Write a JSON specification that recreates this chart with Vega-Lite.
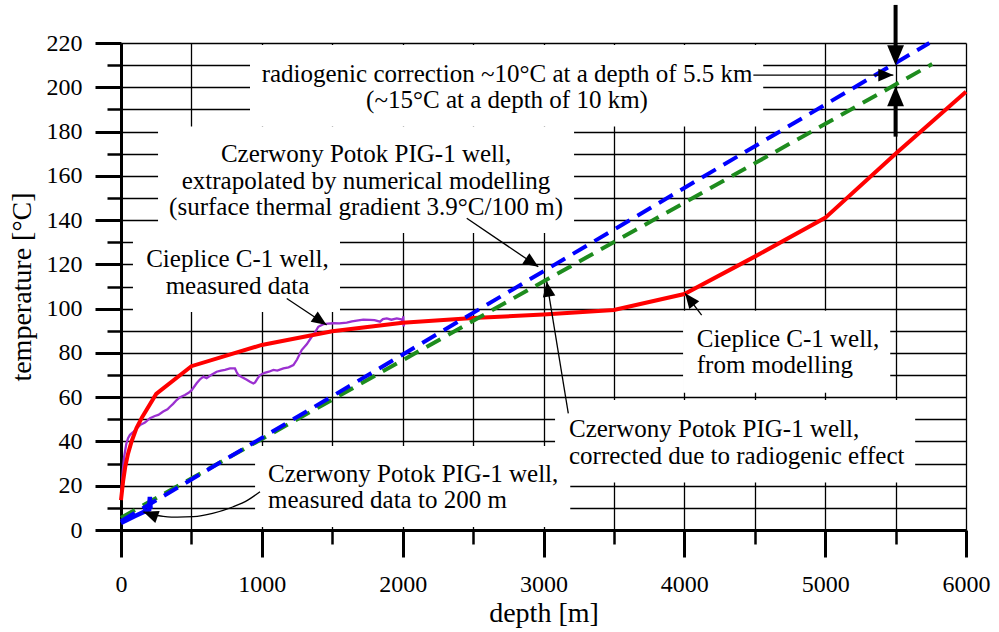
{
  "$schema": "https://vega.github.io/schema/vega-lite/v6.json",
  "width": 845,
  "height": 487,
  "autosize": {"type": "none"},
  "padding": {"left": 121, "top": 43, "right": 33, "bottom": 102},
  "background": "white",
  "config": {"view": {"stroke": null}, "font": "Liberation Serif"},
  "datasets": {
    "boxes": [
      {"x": 916, "x2": 4560, "y": 182.3, "y2": 219.1},
      {"x": 263, "x2": 3217, "y": 134.2, "y2": 182.3},
      {"x": 85, "x2": 1555, "y": 98.5, "y2": 134.2},
      {"x": 952, "x2": 3190, "y": 1.4, "y2": 38},
      {"x": 3082, "x2": 5639, "y": 21.5, "y2": 58.7},
      {"x": 3991, "x2": 5462, "y": 62, "y2": 99}
    ],
    "red": [
      {"x": 0, "y": 13.5}, {"x": 15, "y": 22}, {"x": 30, "y": 28.5}, {"x": 50, "y": 34.5},
      {"x": 75, "y": 40}, {"x": 110, "y": 46}, {"x": 150, "y": 51}, {"x": 250, "y": 61.5},
      {"x": 500, "y": 74}, {"x": 1000, "y": 83.6}, {"x": 1500, "y": 89.8}, {"x": 2000, "y": 93.6},
      {"x": 2500, "y": 95.8}, {"x": 3000, "y": 97.3}, {"x": 3500, "y": 99.4}, {"x": 4000, "y": 106.6},
      {"x": 4500, "y": 123.5}, {"x": 5000, "y": 141}, {"x": 5500, "y": 170}, {"x": 6000, "y": 198}
    ],
    "purple": [
      {"x": 3, "y": 17}, {"x": 12, "y": 26}, {"x": 22, "y": 33}, {"x": 38, "y": 39}, {"x": 50, "y": 41.5},
      {"x": 64, "y": 43}, {"x": 90, "y": 44.5}, {"x": 135, "y": 47.4}, {"x": 170, "y": 48.5},
      {"x": 206, "y": 50.5}, {"x": 240, "y": 51.5}, {"x": 265, "y": 52}, {"x": 300, "y": 53.5},
      {"x": 330, "y": 54.5}, {"x": 348, "y": 55.7}, {"x": 370, "y": 57}, {"x": 395, "y": 58.7},
      {"x": 420, "y": 60}, {"x": 454, "y": 61}, {"x": 480, "y": 62}, {"x": 502, "y": 63.2},
      {"x": 537, "y": 66.3}, {"x": 560, "y": 68}, {"x": 585, "y": 69.3}, {"x": 608, "y": 68.6},
      {"x": 640, "y": 70}, {"x": 679, "y": 71.5}, {"x": 710, "y": 72}, {"x": 738, "y": 72.3},
      {"x": 774, "y": 73}, {"x": 809, "y": 73}, {"x": 820, "y": 71.5}, {"x": 833, "y": 70},
      {"x": 860, "y": 69}, {"x": 890, "y": 68}, {"x": 916, "y": 67}, {"x": 940, "y": 66.2},
      {"x": 952, "y": 66.7}, {"x": 970, "y": 68.5}, {"x": 987, "y": 70}, {"x": 1020, "y": 71},
      {"x": 1050, "y": 71.5}, {"x": 1082, "y": 72.3}, {"x": 1110, "y": 72}, {"x": 1153, "y": 73},
      {"x": 1190, "y": 73.5}, {"x": 1224, "y": 74.5}, {"x": 1250, "y": 77}, {"x": 1283, "y": 81.3},
      {"x": 1320, "y": 84}, {"x": 1354, "y": 87.3}, {"x": 1380, "y": 89.5}, {"x": 1401, "y": 91.8},
      {"x": 1437, "y": 93}, {"x": 1470, "y": 93.2}, {"x": 1508, "y": 93.4}, {"x": 1550, "y": 93.3},
      {"x": 1603, "y": 93.7}, {"x": 1640, "y": 94.2}, {"x": 1674, "y": 94.6}, {"x": 1720, "y": 95},
      {"x": 1768, "y": 94.9}, {"x": 1800, "y": 94.8}, {"x": 1839, "y": 94.1}, {"x": 1860, "y": 95.3},
      {"x": 1887, "y": 95.6}, {"x": 1920, "y": 95}, {"x": 1958, "y": 95.6}, {"x": 1990, "y": 95.2},
      {"x": 2000, "y": 94.5}, {"x": 2004, "y": 96.5}, {"x": 2007, "y": 92}, {"x": 2010, "y": 93.5}
    ],
    "blueDash": [{"x": 0, "y": 4}, {"x": 5740, "y": 220}],
    "greenDash": [{"x": 0, "y": 5.5}, {"x": 5760, "y": 210.5}],
    "blueMeasured": [
      {"x": 0, "y": 3.2}, {"x": 100, "y": 6.3}, {"x": 200, "y": 9.3}, {"x": 205, "y": 15}, {"x": 210, "y": 9.5}
    ],
    "curve": [
      {"x": 200, "y": 7}, {"x": 300, "y": 6.2}, {"x": 400, "y": 5.8}, {"x": 514, "y": 6},
      {"x": 650, "y": 7.5}, {"x": 797, "y": 10.5}, {"x": 900, "y": 13.5}, {"x": 987, "y": 17.3}
    ],
    "arrows": [
      {"x": 1460, "y": 92.6, "x2": 1177, "y2": 104.6, "angle": 124},
      {"x": 2963, "y": 118.9, "x2": 2455, "y2": 140.8, "angle": 124},
      {"x": 3023, "y": 112.2, "x2": 3176, "y2": 52.7, "angle": 351},
      {"x": 4005, "y": 106.9, "x2": 4123, "y2": 97.1, "angle": 322},
      {"x": 159, "y": 8.2, "x2": 200, "y2": 7, "angle": 290},
      {"x": 5484, "y": 205.5, "x2": 4490, "y2": 205.5, "angle": 90}
    ],
    "thick": [
      {"x": 5500, "y": 210, "yb": 218, "y2": 237.2, "angle": 180},
      {"x": 5500, "y": 200.5, "yb": 192.5, "y2": 177.7, "angle": 0}
    ],
    "textCenter": [
      {"x": 2741, "y": 202.5, "text": "radiogenic correction ~10°C at a depth of 5.5 km\n(~15°C at a depth of 10 km)"},
      {"x": 1740, "y": 166.2, "text": "Czerwony Potok PIG-1 well,\nextrapolated by numerical modelling\n(surface thermal gradient 3.9°C/100 m)"},
      {"x": 827, "y": 118.8, "text": "Cieplice C-1 well,\nmeasured data"}
    ],
    "textLeft": [
      {"x": 1044, "y": 21.8, "text": "Czerwony Potok PIG-1 well,\nmeasured data to 200 m"},
      {"x": 4088, "y": 82.8, "text": "Cieplice C-1 well,\nfrom modelling"},
      {"x": 3181, "y": 41.9, "text": "Czerwony Potok PIG-1 well,\ncorrected due to radiogenic effect"}
    ]
  },
  "encoding": {
    "x": {
      "field": "x", "type": "quantitative",
      "scale": {"domain": [0, 6000], "nice": false, "zero": false},
      "axis": {
        "title": "depth [m]",
        "values": [0, 500, 1000, 1500, 2000, 2500, 3000, 3500, 4000, 4500, 5000, 5500, 6000],
        "format": "d",
        "labelExpr": "datum.value % 1000 === 0 ? datum.label : ''",
        "grid": true, "gridColor": "black", "gridWidth": 1.3, "gridOpacity": 1,
        "domainColor": "black", "domainWidth": 3,
        "tickColor": "black",
        "tickSize": {"condition": {"test": "datum.value % 1000 === 0", "value": 27}, "value": 14},
        "tickWidth": {"condition": {"test": "datum.value % 1000 === 0", "value": 3}, "value": 2.5},
        "labelFont": "Liberation Serif", "labelFontSize": 24, "labelColor": "black",
        "labelPadding": 15, "labelFlush": false, "labelOverlap": false,
        "titleFont": "Liberation Serif", "titleFontSize": 28, "titleFontWeight": "normal",
        "titleColor": "black", "titlePadding": 3
      }
    },
    "y": {
      "field": "y", "type": "quantitative",
      "scale": {"domain": [0, 220], "nice": false, "zero": false},
      "axis": {
        "title": "temperature [°C]",
        "values": [0, 10, 20, 30, 40, 50, 60, 70, 80, 90, 100, 110, 120, 130, 140, 150, 160, 170, 180, 190, 200, 210, 220],
        "format": "d",
        "labelExpr": "datum.value % 20 === 0 ? datum.label : ''",
        "grid": true, "gridColor": "black", "gridWidth": 1.3, "gridOpacity": 1,
        "domainColor": "black", "domainWidth": 3,
        "tickColor": "black",
        "tickSize": {"condition": {"test": "datum.value % 20 === 0", "value": 26}, "value": 14},
        "tickWidth": {"condition": {"test": "datum.value % 20 === 0", "value": 3}, "value": 2.5},
        "labelFont": "Liberation Serif", "labelFontSize": 24, "labelColor": "black",
        "labelPadding": 13, "labelFlush": false, "labelOverlap": false,
        "titleFont": "Liberation Serif", "titleFontSize": 28, "titleFontWeight": "normal",
        "titleColor": "black", "titlePadding": 10
      }
    }
  },
  "layer": [
    {
      "data": {"name": "boxes"},
      "mark": {"type": "rect", "color": "white", "opacity": 1, "strokeWidth": 0},
      "encoding": {"x2": {"field": "x2"}, "y2": {"field": "y2"}}
    },
    {
      "data": {"name": "purple"},
      "mark": {"type": "line", "color": "#9b30d0", "strokeWidth": 2.3},
      "encoding": {}
    },
    {
      "data": {"name": "red"},
      "mark": {"type": "line", "color": "#ff0000", "strokeWidth": 4},
      "encoding": {}
    },
    {
      "data": {"name": "greenDash"},
      "mark": {"type": "line", "color": "#1e8c1e", "strokeWidth": 4, "strokeDash": [16, 9]},
      "encoding": {}
    },
    {
      "data": {"name": "blueDash"},
      "mark": {"type": "line", "color": "#0000ff", "strokeWidth": 4, "strokeDash": [16, 9]},
      "encoding": {}
    },
    {
      "data": {"name": "blueMeasured"},
      "mark": {"type": "line", "color": "#0000ff", "strokeWidth": 4.5},
      "encoding": {}
    },
    {
      "data": {"name": "curve"},
      "mark": {"type": "line", "color": "black", "strokeWidth": 1.3, "interpolate": "monotone"},
      "encoding": {}
    },
    {
      "data": {"name": "arrows"},
      "mark": {"type": "rule", "color": "black", "strokeWidth": 1.3},
      "encoding": {"x2": {"field": "x2"}, "y2": {"field": "y2"}}
    },
    {
      "data": {"name": "arrows"},
      "mark": {"type": "point", "shape": "M0,0L-0.42,1L0.42,1Z", "filled": true, "color": "black", "opacity": 1, "size": 900, "strokeWidth": 0},
      "encoding": {"angle": {"field": "angle", "type": "quantitative", "scale": null}}
    },
    {
      "data": {"name": "thick"},
      "mark": {"type": "rule", "color": "black", "strokeWidth": 4},
      "encoding": {"y": {"field": "yb", "type": "quantitative"}, "y2": {"field": "y2"}}
    },
    {
      "data": {"name": "thick"},
      "mark": {"type": "point", "shape": "M0,0L-0.42,1L0.42,1Z", "filled": true, "color": "black", "opacity": 1, "size": 1600, "strokeWidth": 0},
      "encoding": {"angle": {"field": "angle", "type": "quantitative", "scale": null}}
    },
    {
      "data": {"name": "textCenter"},
      "mark": {"type": "text", "align": "center", "baseline": "alphabetic", "font": "Liberation Serif", "fontSize": 25, "lineHeight": 26.5, "lineBreak": "\n", "color": "black"},
      "encoding": {"text": {"field": "text", "type": "nominal"}}
    },
    {
      "data": {"name": "textLeft"},
      "mark": {"type": "text", "align": "left", "baseline": "alphabetic", "font": "Liberation Serif", "fontSize": 25, "lineHeight": 26.5, "lineBreak": "\n", "color": "black"},
      "encoding": {"text": {"field": "text", "type": "nominal"}}
    }
  ]
}
